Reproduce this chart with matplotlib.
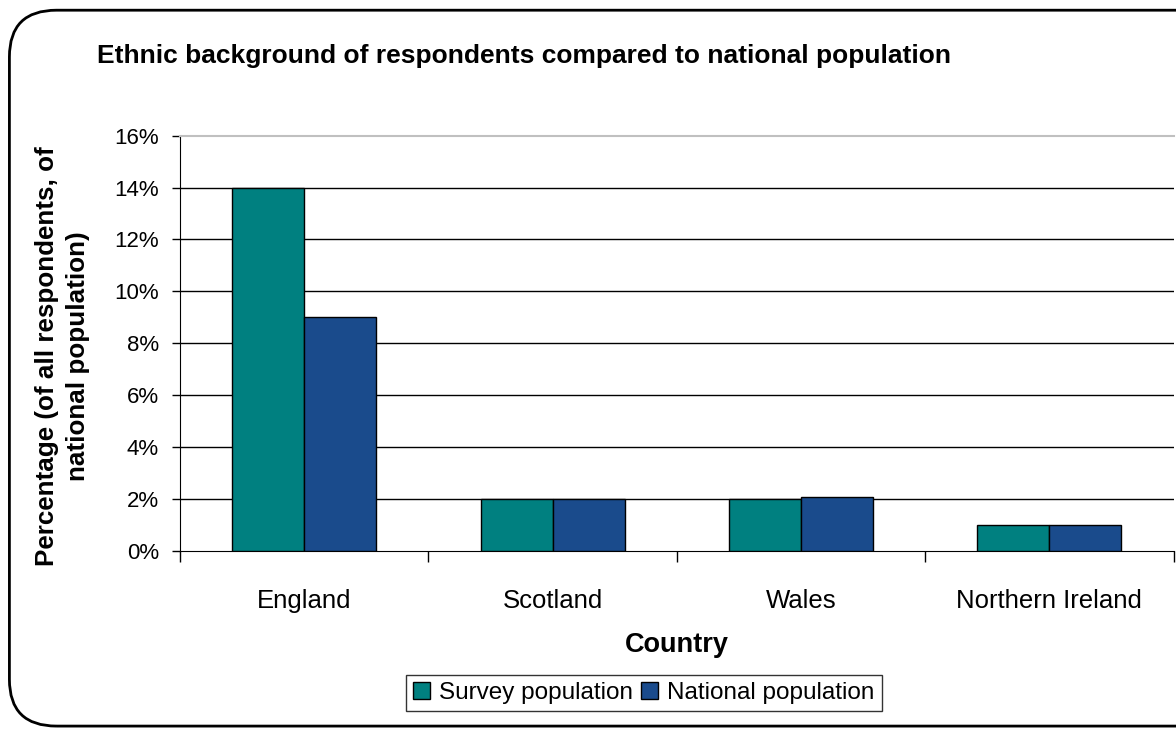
import matplotlib.pyplot as plt
from matplotlib.patches import FancyBboxPatch
from matplotlib.ticker import FuncFormatter
import numpy as np

countries = ["England", "Scotland", "Wales", "Northern Ireland"]
survey = [14.0, 2.0, 2.0, 1.0]
national = [9.0, 2.0, 2.1, 1.0]

plt.rcParams["font.family"] = ["Liberation Sans", "DejaVu Sans"]

fig = plt.figure(figsize=(11.76, 7.29), dpi=100)
ax = fig.add_axes([0.153, 0.244, 0.845, 0.570])

# rounded frame around the chart
frame = FancyBboxPatch((0.008, 0.004), 1.2, 0.982,
                       boxstyle="round,pad=0,rounding_size=0.04",
                       transform=fig.transFigure, fill=False,
                       edgecolor="black", linewidth=2, mutation_aspect=1.6)
fig.patches.append(frame)

x = np.arange(len(countries))
w = 0.29
ax.bar(x - w / 2, survey, w, color="#008080", edgecolor="black",
       linewidth=1, label="Survey population", zorder=3)
ax.bar(x + w / 2, national, w, color="#1a4b8c", edgecolor="black",
       linewidth=1, label="National population", zorder=3)

ax.set_xlim(-0.5, 3.5)
ax.set_ylim(0, 16)
ax.set_yticks(range(0, 17, 2))
ax.yaxis.set_major_formatter(FuncFormatter(lambda v, p: f"{v:.0f}%"))
for v in range(2, 16, 2):
    ax.axhline(v, color="black", linewidth=1, zorder=1)

ax.set_xticks(x)
ax.set_xticklabels(countries)
ax.set_xticks(np.arange(-0.5, 4.0, 1), minor=True)
ax.tick_params(axis="x", which="major", length=0, pad=27, labelsize=18.5)
ax.tick_params(axis="x", which="minor", length=8, width=1)
ax.tick_params(axis="y", length=6, width=1, labelsize=16, pad=9)

ax.spines["right"].set_visible(False)
ax.spines["top"].set_color("#c0c0c0")
ax.spines["top"].set_linewidth(1.5)

ax.set_xlabel("Country", fontsize=19.5, fontweight="bold", labelpad=14)

# y label placed by hand (two centred lines)
fig.text(0.053, 0.512, "Percentage (of all respondents, of\nnational population)",
         rotation=90, ha="center", va="center", multialignment="center",
         fontsize=18.7, fontweight="bold", linespacing=1.35)

fig.text(0.0825, 0.9136, "Ethnic background of respondents compared to national population",
         fontsize=19, fontweight="bold")

leg = ax.legend(loc="center", bbox_to_anchor=(0.5475, 0.0495),
                bbox_transform=fig.transFigure, ncol=2, fontsize=17.5,
                frameon=True, fancybox=False, edgecolor="black",
                handlelength=0.7, handleheight=0.7, handletextpad=0.35,
                columnspacing=0.35, borderpad=0.3)
leg.get_frame().set_linewidth(1)

fig.savefig("out.png", dpi=100)
